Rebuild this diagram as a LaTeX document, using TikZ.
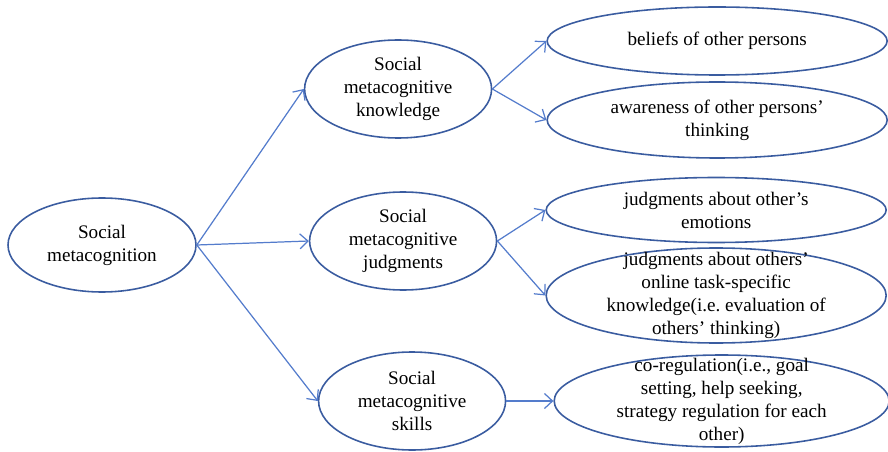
\documentclass[tikz,border=0pt]{standalone}
\usepackage{fontspec}
\setmainfont{Liberation Serif}
\usepackage{xcolor}
\usepackage{tikz}
\usetikzlibrary{shapes,arrows.meta,positioning}
\definecolor{ringblue}{RGB}{58,92,160}
\definecolor{linkblue}{RGB}{84,124,204}

\begin{document}
\begin{tikzpicture}[
  oval/.style={ellipse, draw=ringblue, line width=0.9pt, align=center, inner xsep=0pt, inner ysep=-0.5cm},
  root/.style={oval, minimum width=3.76cm, minimum height=1.88cm},
  mid/.style={oval, minimum width=3.74cm, minimum height=1.96cm},
  leaf/.style={oval, minimum width=6.8cm},
  arrow/.style={-{Straight Barb[length=1.6mm,width=3mm]}, draw=linkblue, line width=0.7pt},
  font=\fontsize{10.9}{13.1}\selectfont
]
\useasboundingbox (0,0) rectangle (17.76,-9.04);
\node[root] (soc) at (2.04,-4.9) {Social\\metacognition};
\node[mid, right=2.14cm of soc, yshift=3.12cm] (know) {Social\\metacognitive\\knowledge};
\node[mid, right=2.24cm of soc, yshift=0.08cm] (judg) {Social\\metacognitive\\judgments};
\node[mid, right=2.42cm of soc, yshift=-3.12cm] (skill) {Social\\metacognitive\\skills};
\node[leaf, minimum height=1.36cm, right=1.08cm of know, yshift=0.96cm] (belief) {beliefs of other persons};
\node[leaf, minimum height=1.52cm, right=1.08cm of know, yshift=-0.62cm] (aware) {awareness of other persons'\\thinking};
\node[leaf, minimum height=1.3cm, right=0.96cm of judg, yshift=0.62cm] (emo) {judgments about other's\\emotions};
\node[leaf, minimum height=1.9cm, right=0.96cm of judg, yshift=-1.09cm] (online) {judgments about others'\\online task-specific\\knowledge(i.e.\ evaluation of\\others' thinking)};
\node[leaf, minimum width=6.7cm, minimum height=1.84cm, right=0.94cm of skill] (coreg) {co-regulation(i.e., goal\\setting, help seeking,\\strategy regulation for each\\other)};
\draw[arrow] (soc.east) -- (know.west);
\draw[arrow] (soc.east) -- (judg.west);
\draw[arrow] (soc.east) -- (skill.west);
\draw[arrow] (know.east) -- (belief.west);
\draw[arrow] (know.east) -- (aware.west);
\draw[arrow] (judg.east) -- (emo.west);
\draw[arrow] (judg.east) -- (online.west);
\draw[arrow] (skill.east) -- (coreg.west);
\end{tikzpicture}
\end{document}
